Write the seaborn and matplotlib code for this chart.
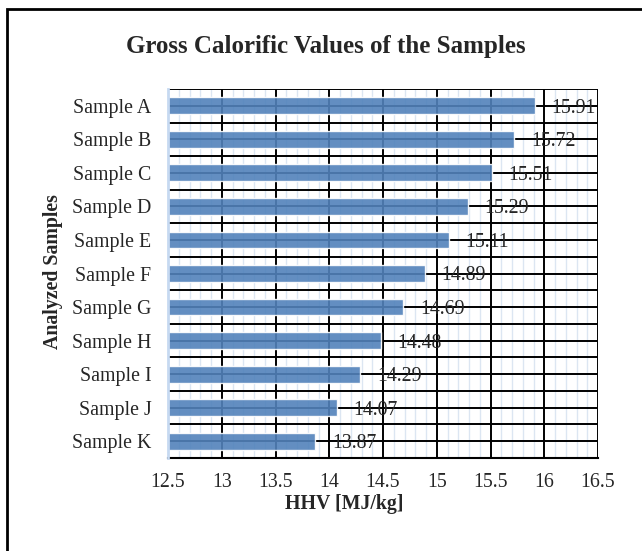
import matplotlib
matplotlib.use("Agg")
import matplotlib.pyplot as plt
import seaborn as sns
import pandas as pd
import numpy as np
from matplotlib.patches import Rectangle
from matplotlib.ticker import FixedLocator

# values
samples = ["Sample A", "Sample B", "Sample C", "Sample D", "Sample E", "Sample F",
           "Sample G", "Sample H", "Sample I", "Sample J", "Sample K"]
hhv = [15.91, 15.72, 15.51, 15.29, 15.11, 14.89, 14.69, 14.48, 14.29, 14.07, 13.87]
x_ticks = [12.5, 13, 13.5, 14, 14.5, 15, 15.5, 16, 16.5]

df = pd.DataFrame({"sample": samples, "hhv": hhv})

sns.set_style("white")
plt.rcParams['font.family'] = ['Liberation Serif', 'DejaVu Serif']
fs = 14.3

fig = plt.figure(figsize=(6.42, 5.51), dpi=100)
ax = fig.add_axes([168/642, 1 - 458/551, 430/642, 369/551])

sns.barplot(data=df, x="hhv", y="sample", orient="h", color="#4180cc",
            width=0.5, alpha=0.9, ax=ax, zorder=3)

ax.set_xlim(12.5, 16.5)
ax.set_ylim(10.5, -0.5)
ax.set_xticks(x_ticks)
ax.set_xticklabels([f"{t:g}" for t in x_ticks])
# minor vertical lines every 0.1 (skipping the major ones)
minor_x = [round(12.5 + 0.1 * i, 2) for i in range(41) if i % 5 != 0]
ax.xaxis.set_minor_locator(FixedLocator(minor_x))
ax.set_yticks(range(len(samples)))
ax.set_yticklabels(samples)
ax.yaxis.set_minor_locator(FixedLocator([i - 0.5 for i in range(len(samples) + 1)]))

ax.set_axisbelow(True)
ax.grid(which="minor", axis="x", color="#dce6f2", linewidth=1.0, zorder=0)
ax.grid(which="major", axis="x", color="black", linewidth=1.4, zorder=1)
ax.grid(which="both", axis="y", color="black", linewidth=1.4, zorder=1)

ax.tick_params(axis="both", which="both", length=0, labelsize=fs)
ax.tick_params(axis="y", pad=12)
ax.tick_params(axis="x", pad=11)

# value labels just right of each bar end
for i, v in enumerate(hhv):
    ax.annotate(f"{v:.2f}", (v, i), xytext=(12, 0), textcoords="offset points",
                ha="left", va="center_baseline", fontsize=fs, zorder=4)

for side in ["top", "right"]:
    ax.spines[side].set_visible(False)
ax.spines["bottom"].set_color("black")
ax.spines["bottom"].set_linewidth(1.5)
ax.spines["left"].set_color("#c6d9f1")
ax.spines["left"].set_linewidth(2)
ax.spines["left"].set_zorder(5)

ax.set_xlabel("")
ax.set_ylabel("")
fig.text(344/642, 1 - 504/551, "HHV [MJ/kg]", ha="center", va="center",
         fontsize=fs, fontweight="bold")
fig.text(53/642, 1 - 272/551, "Analyzed Samples", ha="center", va="center",
         rotation=90, fontsize=fs, fontweight="bold")
fig.text(326/642, 1 - 46/551, "Gross Calorific Values of the Samples",
         ha="center", va="center", fontsize=18, fontweight="bold")

# outer chart frame (cut off at right and bottom like the reference)
fig.patches.append(Rectangle((7/642, -0.1), 1.0, 1 - 9/551 + 0.1,
                             transform=fig.transFigure, fill=False,
                             edgecolor="black", linewidth=2))

fig.savefig("out.png", dpi=100)
